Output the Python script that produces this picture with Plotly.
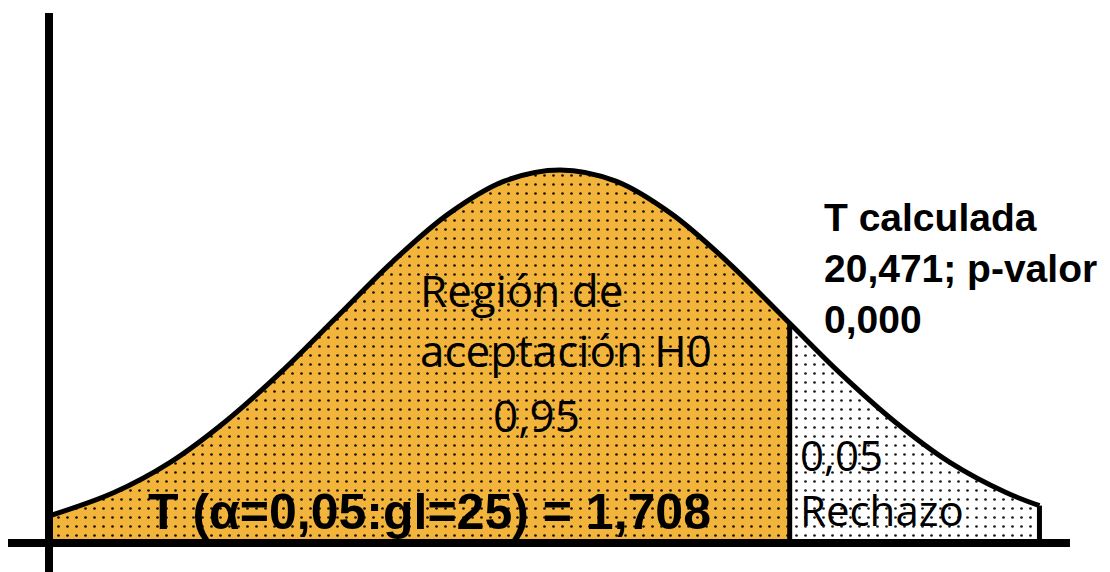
import plotly.graph_objects as go

# ---- data (t in standard units, density of the curve) ----
t_vals = [-2.29, -2.0, -1.75, -1.5, -1.25, -1.0, -0.75, -0.5, -0.25, 0.0,
          0.25, 0.5, 0.75, 1.03, 1.25, 1.5, 1.75, 2.0, 2.15]
density = [0.029, 0.054, 0.086, 0.130, 0.183, 0.242, 0.301, 0.352, 0.387, 0.399,
           0.387, 0.352, 0.301, 0.235, 0.183, 0.130, 0.086, 0.054, 0.040]
t_crit = 1.03          # critical point separating acceptance / rejection
labels_accept = ["Región de", "aceptación H0", "0,95"]
labels_reject = ["0,05", "Rechazo"]
label_t = "T (α=0,05:gl=25) = 1,708"
labels_calc = ["T calculada", "20,471; p-valor", "0,000"]

ORANGE = "#F3B43C"
W, H = 1110, 572

acc_t = [t for t in t_vals if t <= t_crit]
acc_d = [d for t, d in zip(t_vals, density) if t <= t_crit]
rej_t = [t for t in t_vals if t >= t_crit]
rej_d = [d for t, d in zip(t_vals, density) if t >= t_crit]

fig = go.Figure()

fig.add_trace(go.Scatter(
    x=acc_t, y=acc_d, mode="lines", line=dict(width=0, shape="spline"),
    fill="tozeroy", fillcolor=ORANGE,
    fillpattern=dict(shape=".", bgcolor=ORANGE, fgcolor="black", size=9,
                     solidity=0.07, fgopacity=0.9),
    hoverinfo="skip", showlegend=False))
fig.add_trace(go.Scatter(
    x=rej_t, y=rej_d, mode="lines", line=dict(width=0, shape="spline"),
    fill="tozeroy", fillcolor="white",
    fillpattern=dict(shape=".", bgcolor="white", fgcolor="black", size=9,
                     solidity=0.07, fgopacity=0.9),
    hoverinfo="skip", showlegend=False))
# outline of the curve
fig.add_trace(go.Scatter(
    x=t_vals, y=density, mode="lines", line=dict(color="black", width=5, shape="spline"),
    hoverinfo="skip", showlegend=False))
# vertical edges: left end, critical value, right end
for tv, dv, w in [(t_vals[0], density[0], 3),
                  (t_crit, acc_d[-1], 5),
                  (t_vals[-1], density[-1], 5)]:
    fig.add_trace(go.Scatter(x=[tv, tv], y=[0, dv], mode="lines",
                             line=dict(color="black", width=w),
                             hoverinfo="skip", showlegend=False))

# pixel -> data helpers for the layout geometry
PX_PER_T = 223.0
X0 = 560.0
BASE = 543.0
PX_PER_D = 373.0 / 0.3989
def tx(px):
    return (px - X0) / PX_PER_T
def dy(py):
    return (BASE - py) / PX_PER_D

# coordinate axes (thick black lines)
fig.add_shape(type="line", x0=tx(49), x1=tx(49), y0=dy(572), y1=dy(13),
              line=dict(color="black", width=8), layer="above")
fig.add_shape(type="line", x0=tx(8), x1=tx(1070), y0=0, y1=0,
              line=dict(color="black", width=8), layer="above")

reg_font = dict(family="Open Sans, Noto Sans, sans-serif", size=44, color="black")
bold_font = dict(family="Liberation Sans, Arial, sans-serif", size=39, color="black")

def ann(text, px, py, font, xanchor="left"):
    fig.add_annotation(x=px / W, y=1 - py / H, xref="paper", yref="paper",
                       text=text, showarrow=False, xanchor=xanchor, align="left",
                       yanchor="middle", font=font)

ann(labels_accept[0], 418, 290, reg_font)
ann(labels_accept[1], 418, 350, reg_font)
ann(labels_accept[2], 536, 415, reg_font, xanchor="center")
ann("<br>".join(labels_reject), 798, 482, dict(reg_font, size=42))
ann("<b>" + label_t + "</b>", 429, 512, dict(bold_font, size=50), xanchor="center")
for i, txt in enumerate(labels_calc):
    ann("<b>" + txt + "</b>", 822, 217 + i * 51, bold_font)

fig.update_layout(
    width=W, height=H, margin=dict(l=0, r=0, t=0, b=0),
    paper_bgcolor="white", plot_bgcolor="white",
    xaxis=dict(range=[tx(0), tx(W)], visible=False, fixedrange=True),
    yaxis=dict(range=[dy(H), dy(0)], visible=False, fixedrange=True),
    showlegend=False)

fig.write_html("out.html", config={"displayModeBar": False},
               post_script="document.body.style.margin='0';"
                           "document.body.style.overflow='hidden';")
